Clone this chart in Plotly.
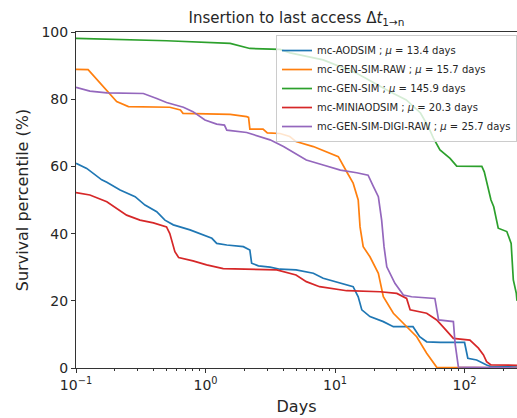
import plotly.graph_objects as go

# ---- data ----
aod_x = [0.1, 0.121, 0.158, 0.173, 0.219, 0.286, 0.341, 0.42, 0.486, 0.564, 0.759, 0.96, 1.12, 1.22, 1.46, 1.96, 2.2, 2.27, 2.56, 3.15, 3.76, 5.0, 6.8, 8.1, 11, 13.8, 15.1, 16.1, 18.6, 23.6, 28.2, 40, 45, 51, 65, 100, 106, 124, 148, 160, 254]
aod_y = [60.9, 59.4, 56.0, 55.3, 53.0, 51.0, 48.5, 46.5, 44.0, 42.6, 41.1, 39.6, 38.6, 37.1, 36.6, 36.1, 35.1, 31.2, 30.4, 30.0, 29.4, 29.2, 28.2, 26.7, 25.2, 24.2, 21.2, 17.3, 15.3, 13.8, 12.3, 12.3, 9.3, 7.8, 7.6, 7.6, 2.9, 2.4, 0.9, 0.4, 0.3]

gsr_x = [0.1, 0.124, 0.206, 0.254, 0.53, 0.64, 0.67, 1.55, 2.08, 2.15, 2.2, 2.78, 3.0, 3.76, 4.47, 5.0, 6.8, 9.1, 10.6, 12.3, 13.8, 15.1, 15.6, 16.5, 18.6, 21.6, 23.6, 28.2, 35.7, 42.7, 51, 61, 254]
gsr_y = [88.9, 88.8, 79.3, 77.8, 77.6, 76.8, 75.8, 75.5, 74.8, 74.6, 71.1, 71.1, 70.0, 69.8, 68.9, 67.4, 65.9, 63.9, 62.9, 58.4, 55.0, 50.0, 42.0, 36.1, 33.1, 28.2, 21.2, 16.3, 12.3, 9.3, 4.4, 0.2, 0.0]

gs_x = [0.1, 0.5, 1.55, 2.2, 3.76, 4.5, 8.1, 14.7, 26.6, 35.5, 45.7, 52.5, 57.5, 64.6, 77.3, 87, 136, 142, 160, 168, 182, 212, 229, 238, 251, 254]
gs_y = [98.1, 97.4, 96.6, 95.1, 94.8, 93.8, 91.7, 87.7, 82.2, 79.8, 75.9, 71.8, 68.4, 64.9, 62.4, 60.1, 60.0, 58.4, 50.0, 48.0, 41.6, 40.6, 37.1, 26.2, 22.2, 20.0]

mini_x = [0.1, 0.128, 0.173, 0.246, 0.312, 0.396, 0.5, 0.53, 0.58, 0.62, 0.8, 1.02, 1.37, 2.2, 3.55, 5.0, 6.0, 7.6, 12.3, 22.3, 30, 35.7, 38, 51, 61, 68, 82, 110, 128, 140, 148, 160, 254]
mini_y = [52.2, 51.5, 49.5, 45.5, 44.0, 43.2, 42.0, 40.0, 34.6, 32.9, 31.9, 30.7, 29.6, 29.4, 29.2, 27.7, 25.7, 24.2, 23.0, 22.7, 22.2, 20.7, 17.3, 16.3, 14.3, 12.3, 8.8, 8.3, 5.9, 3.9, 1.9, 0.9, 0.8]

gsdr_x = [0.1, 0.128, 0.173, 0.331, 0.42, 0.5, 0.675, 0.8, 0.99, 1.22, 1.4, 1.46, 2.08, 2.63, 3.15, 4.0, 5.0, 6.0, 8.1, 11, 14.7, 18, 19.8, 21.6, 22.9, 23.9, 25.1, 29, 33.7, 39, 59, 63, 82, 84.5, 89.6, 254]
gsdr_y = [83.5, 82.4, 81.9, 81.7, 80.2, 79.0, 77.6, 76.3, 73.8, 72.6, 72.3, 70.8, 70.1, 68.9, 67.9, 65.9, 63.6, 61.9, 60.4, 58.9, 58.1, 57.4, 54.0, 51.0, 44.0, 36.1, 30.1, 25.2, 21.7, 21.2, 20.7, 14.3, 13.8, 7.3, 0.3, 0.0]

names = ["mc-AODSIM", "mc-GEN-SIM-RAW", "mc-GEN-SIM", "mc-MINIAODSIM", "mc-GEN-SIM-DIGI-RAW"]
means = [13.4, 15.7, 145.9, 20.3, 25.7]
colors = ["#1f77b4", "#ff7f0e", "#2ca02c", "#d62728", "#9467bd"]
series = [(aod_x, aod_y), (gsr_x, gsr_y), (gs_x, gs_y), (mini_x, mini_y), (gsdr_x, gsdr_y)]

x_tickvals = [0.1, 1, 10, 100]
x_ticktext = ["10<sup>−1</sup>", "10<sup>0</sup>", "10<sup>1</sup>", "10<sup>2</sup>"]
y_tickvals = [0, 20, 40, 60, 80, 100]

fig = go.Figure()
for (xs, ys), n, m, c in zip(series, names, means, colors):
    fig.add_trace(go.Scatter(
        x=xs, y=ys, mode="lines", line=dict(color=c, width=1.7),
        name=f"{n} ; <i>μ</i> = {m} days"))

minor_vals = [k * 10 ** e for e in (-1, 0, 1, 2) for k in range(2, 10)]

fig.update_layout(
    width=517, height=418,
    margin=dict(l=76, r=0, t=32, b=50, autoexpand=False),
    paper_bgcolor="white", plot_bgcolor="white",
    font=dict(family="DejaVu Sans", color="#262626"),
    title=dict(text="Insertion to last access Δ<i>t</i><sub>1→n</sub>",
               x=0.5735, xanchor="center", y=0.958, yanchor="middle",
               font=dict(size=15, color="#262626")),
    showlegend=True,
    legend=dict(x=1.0, xanchor="right", y=0.991, yanchor="top",
                bgcolor="rgba(255,255,255,0.8)", bordercolor="#cccccc", borderwidth=1,
                font=dict(size=10, color="#262626"), itemwidth=30, tracegroupgap=0),
)
fig.update_xaxes(
    type="log", range=[-1, 2.405], showgrid=False, zeroline=False,
    showline=True, linecolor="#333333", linewidth=1, mirror=True,
    ticks="outside", ticklen=4, tickcolor="#333333",
    tickvals=x_tickvals, ticktext=x_ticktext, tickfont=dict(size=14),
    minor=dict(ticks="outside", ticklen=2, tickcolor="#333333", tickvals=minor_vals, showgrid=False),
    title=dict(text="Days", font=dict(size=16), standoff=9),
)
fig.update_yaxes(
    range=[0, 100], showgrid=False, zeroline=False,
    showline=True, linecolor="#333333", linewidth=1,
    ticks="outside", ticklen=4, tickcolor="#333333",
    tickvals=y_tickvals, tickfont=dict(size=14),
    title=dict(text="Survival percentile (%)", font=dict(size=16), standoff=8),
)

fig.write_html("out.html")
